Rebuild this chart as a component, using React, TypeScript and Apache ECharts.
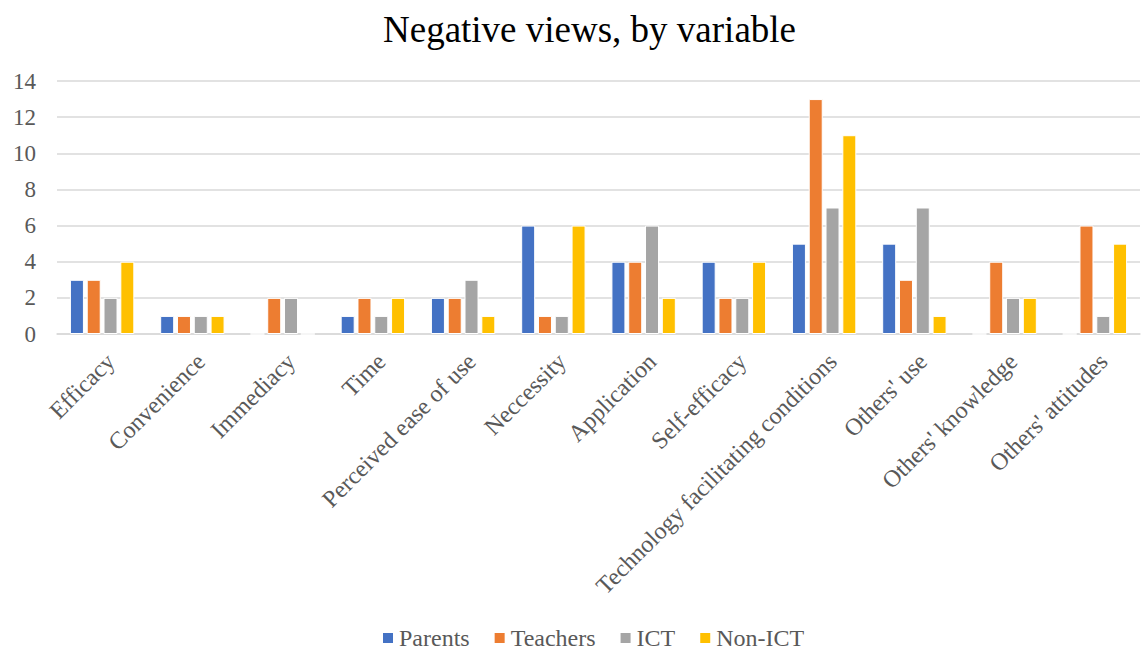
import React, { useEffect, useRef } from "react";
import * as echarts from "echarts";

const categories = [
  "Efficacy",
  "Convenience",
  "Immediacy",
  "Time",
  "Perceived ease of use",
  "Neccessity",
  "Application",
  "Self-efficacy",
  "Technology facilitating conditions",
  "Others' use",
  "Others' knowledge",
  "Others' attitudes",
];
const parents = [3, 1, 0, 1, 2, 6, 4, 4, 5, 5, 0, 0];
const teachers = [3, 1, 2, 2, 2, 1, 4, 2, 13, 3, 4, 6];
const ict = [2, 1, 2, 1, 3, 1, 6, 2, 7, 7, 2, 1];
const nonIct = [4, 1, 0, 2, 1, 6, 2, 4, 11, 1, 2, 5];
const seriesNames = ["Parents", "Teachers", "ICT", "Non-ICT"];
const colors = ["#4472C4", "#ED7D31", "#A5A5A5", "#FFC000"];

export default function App() {
  const ref = useRef<HTMLDivElement>(null);
  useEffect(() => {
    const chart = echarts.init(ref.current!, null, { renderer: "svg" });
    const font = "Liberation Serif, Times New Roman, serif";
    const data = [parents, teachers, ict, nonIct];
    chart.setOption({
      animation: false,
      backgroundColor: "#fff",
      textStyle: { fontFamily: font },
      title: {
        text: "Negative views, by variable",
        left: 378,
        top: 6,
        textStyle: { fontFamily: font, fontSize: 37, fontWeight: "normal", color: "#000" },
      },
      legend: {
        bottom: 0,
        left: 381,
        padding: 0,
        itemWidth: 12,
        itemHeight: 12,
        itemGap: 23,
        icon: "rect",
        textStyle: { fontFamily: font, fontSize: 24, lineHeight: 18, color: "#595959" },
        data: seriesNames,
      },
      grid: { left: 57, right: 8, top: 81, bottom: 316, containLabel: false },
      xAxis: {
        type: "category",
        data: categories,
        axisLine: { lineStyle: { color: "#d9d9d9", width: 1.5 } },
        axisTick: { show: false },
        axisLabel: {
          rotate: 45,
          interval: 0,
          margin: 15,
          verticalAlign: "top",
          fontFamily: font,
          fontSize: 24,
          color: "#595959",
        },
      },
      yAxis: {
        type: "value",
        min: 0,
        max: 14,
        interval: 2,
        axisLine: { show: false },
        axisTick: { show: false },
        splitLine: { lineStyle: { color: "#d9d9d9", width: 1.5 } },
        axisLabel: { fontFamily: font, fontSize: 23, color: "#595959", margin: 21 },
      },
      series: seriesNames.map((name, i) => ({
        name,
        type: "bar",
        data: data[i],
        barWidth: 14,
        barGap: "20%",
        itemStyle: { color: colors[i], borderColor: "#fff", borderWidth: 1 },
      })),
    });
    return () => chart.dispose();
  }, []);
  return (
    <div
      ref={ref}
      style={{ position: "fixed", left: 0, top: 0, width: 1148, height: 650 }}
    />
  );
}
